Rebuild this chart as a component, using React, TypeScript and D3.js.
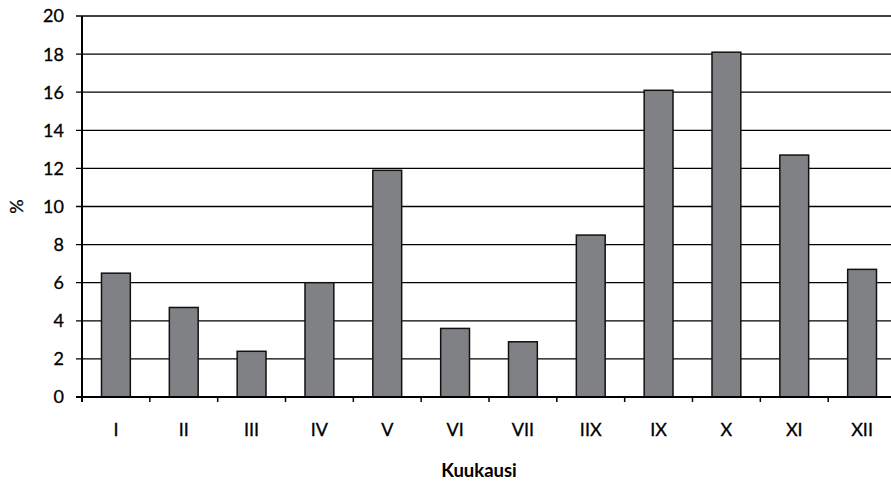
import * as React from 'react'
import * as d3 from 'd3'

const width = 891
const height = 485
const margin = { top: 16, right: -5, bottom: 88, left: 82 }
const barFill = '#808185'

const months = ['I', 'II', 'III', 'IV', 'V', 'VI', 'VII', 'IIX', 'IX', 'X', 'XI', 'XII']
const percents = [6.5, 4.7, 2.4, 6.0, 11.9, 3.6, 2.9, 8.5, 16.1, 18.1, 12.7, 6.7]
const yTicks = [0, 2, 4, 6, 8, 10, 12, 14, 16, 18, 20]

const font = 'Lato, "Open Sans", sans-serif'

const App = () => {
  const xScale = d3
    .scaleBand()
    .domain(months)
    .range([margin.left, width - margin.right])
    .paddingInner(0.575)
    .paddingOuter(0.2875)
  const yScale = d3
    .scaleLinear()
    .domain([0, 20])
    .range([height - margin.bottom, margin.top])

  const step = xScale.step()
  const x0 = margin.left
  const y0 = yScale(0)
  const bandEdges = d3.range(months.length + 1).map(i => x0 + i * step)

  return (
    <svg
      width={width}
      height={height}
      style={{ position: 'absolute', left: 0, top: 0, background: '#fff' }}
    >
      {/* gridlines */}
      {yTicks.map(t => (
        <line
          key={t}
          x1={x0 - 6}
          x2={width}
          y1={yScale(t)}
          y2={yScale(t)}
          stroke="#000"
          strokeWidth={t === 0 ? 2 : 1.3}
        />
      ))}
      {/* bars */}
      {months.map((m, i) => (
        <rect
          key={m}
          x={xScale(m)}
          y={yScale(percents[i])}
          width={xScale.bandwidth()}
          height={y0 - yScale(percents[i])}
          fill={barFill}
          stroke="#111"
          strokeWidth={1.5}
        />
      ))}
      {/* axes */}
      <line x1={x0} x2={x0} y1={yScale(20)} y2={y0 + 5} stroke="#000" strokeWidth={2} />
      <line x1={x0 - 6} x2={width} y1={y0} y2={y0} stroke="#000" strokeWidth={2} />
      {bandEdges.map((bx, i) => (
        <line key={i} x1={bx} x2={bx} y1={y0} y2={y0 + 5} stroke="#000" strokeWidth={1.5} />
      ))}
      {yTicks.map(t => (
        <text
          key={t}
          x={64}
          y={yScale(t)}
          dy="0.36em"
          textAnchor="end"
          fontFamily={font}
          fontSize={18}
          fill="#000"
          stroke="#000"
          strokeWidth={0.3}
        >
          {t}
        </text>
      ))}
      {months.map(m => (
        <text
          key={m}
          x={(xScale(m) as number) + xScale.bandwidth() / 2}
          y={436}
          textAnchor="middle"
          fontFamily={font}
          fontSize={18}
          fill="#000"
          stroke="#000"
          strokeWidth={0.3}
        >
          {m}
        </text>
      ))}
      <text
        x={479}
        y={477}
        textAnchor="middle"
        fontFamily={font}
        fontSize={18.5}
        fontWeight="bold"
        fill="#000"
      >
        Kuukausi
      </text>
      <text
        transform={`translate(23, ${yScale(10)}) rotate(-90)`}
        textAnchor="middle"
        fontFamily={font}
        fontSize={18}
        fill="#000"
        stroke="#000"
        strokeWidth={0.3}
      >
        %
      </text>
    </svg>
  )
}

export default App
